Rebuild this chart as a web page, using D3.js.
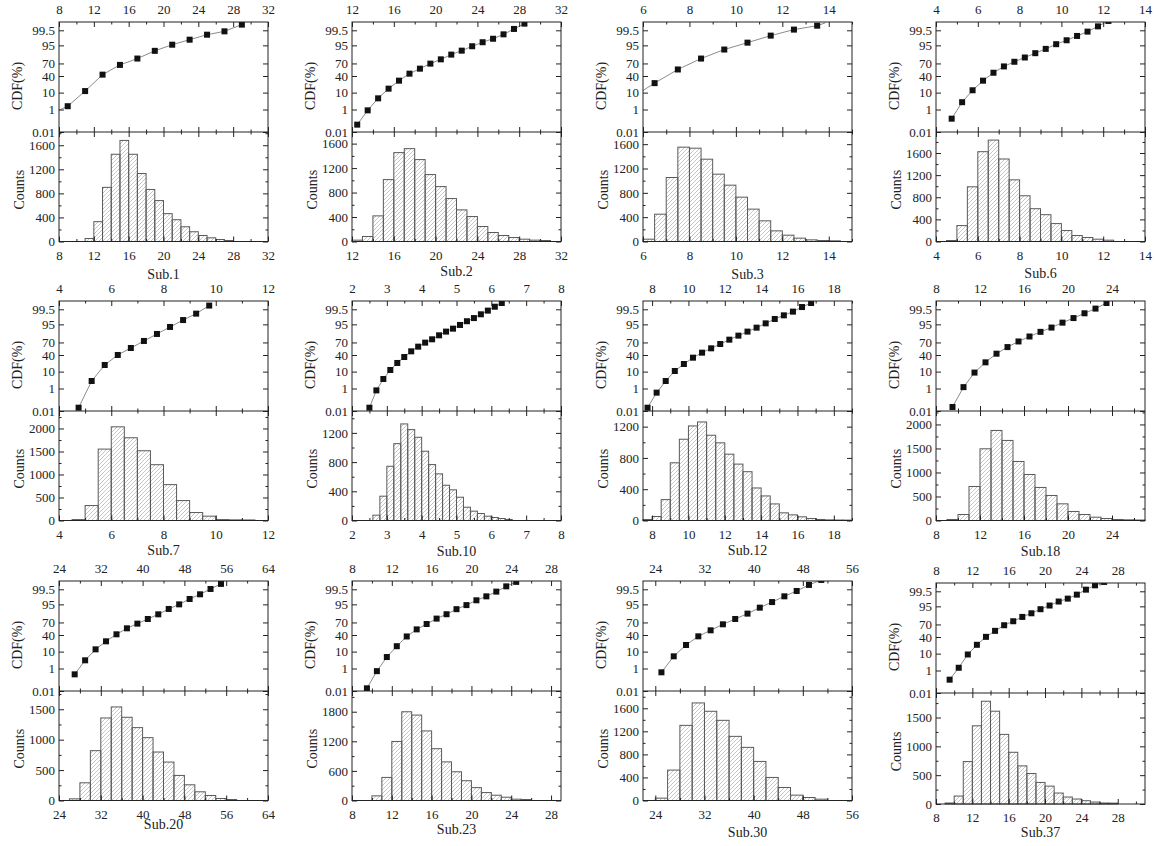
<!DOCTYPE html>
<html>
<head>
<meta charset="utf-8">
<script src="https://cdn.jsdelivr.net/npm/d3@7"></script>
<style>
body { margin: 0; background: #fff; }
svg { display: block; }
</style>
</head>
<body>
<svg width="1158" height="846"></svg>
<script>
// ---- data ----
var subjects = ["Sub.1", "Sub.2", "Sub.3", "Sub.6", "Sub.7", "Sub.10", "Sub.12", "Sub.18", "Sub.20", "Sub.23", "Sub.30", "Sub.37"];

var xDomains = [[8, 32], [12, 32], [6, 15], [4, 14], [4, 12], [2, 8], [7.5, 19], [8, 27], [24, 64], [8, 29], [22, 56], [8, 31]];
var xMajorStep = [4, 4, 2, 2, 2, 1, 2, 4, 8, 4, 8, 4];
var xMinorStep = [2, 2, 1, 1, 1, 0.5, 1, 2, 4, 2, 4, 2];

var probTicks = [0.01, 1, 10, 40, 70, 95, 99.5];
var probLabels = ["0.01", "1", "10", "40", "70", "95", "99.5"];

var cdfX = [
  [9, 11, 13, 15, 17, 19, 21, 23, 25, 27, 29],
  [12.5, 13.5, 14.5, 15.5, 16.5, 17.5, 18.5, 19.5, 20.5, 21.5, 22.5, 23.5, 24.5, 25.5, 26.5, 27.5, 28.5],
  [6.5, 7.5, 8.5, 9.5, 10.5, 11.5, 12.5, 13.5],
  [4.75, 5.25, 5.75, 6.25, 6.75, 7.25, 7.75, 8.25, 8.75, 9.25, 9.75, 10.25, 10.75, 11.25, 11.75, 12.25],
  [4.75, 5.25, 5.75, 6.25, 6.75, 7.25, 7.75, 8.25, 8.75, 9.25, 9.75],
  [2.5, 2.7, 2.9, 3.1, 3.3, 3.5, 3.7, 3.9, 4.1, 4.3, 4.5, 4.7, 4.9, 5.1, 5.3, 5.5, 5.7, 5.9, 6.1, 6.3],
  [7.75, 8.25, 8.75, 9.25, 9.75, 10.25, 10.75, 11.25, 11.75, 12.25, 12.75, 13.25, 13.75, 14.25, 14.75, 15.25, 15.75, 16.25, 16.75],
  [9.5, 10.5, 11.5, 12.5, 13.5, 14.5, 15.5, 16.5, 17.5, 18.5, 19.5, 20.5, 21.5, 22.5, 23.5],
  [27, 29, 31, 33, 35, 37, 39, 41, 43, 45, 47, 49, 51, 53, 55],
  [9.5, 10.5, 11.5, 12.5, 13.5, 14.5, 15.5, 16.5, 17.5, 18.5, 19.5, 20.5, 21.5, 22.5, 23.5, 24.5],
  [25, 27, 29, 31, 33, 35, 37, 39, 41, 43, 45, 47, 49, 51],
  [9.5, 10.5, 11.5, 12.5, 13.5, 14.5, 15.5, 16.5, 17.5, 18.5, 19.5, 20.5, 21.5, 22.5, 23.5, 24.5, 25.5, 26.5]
];

var cdfP = [
  [1.69, 11.8, 43.3, 66.8, 79.6, 90.4, 95.4, 97.7, 98.94, 99.40, 99.83],
  [0.055, 0.87, 5.1, 15.0, 29.4, 45.7, 58.0, 69.6, 78.2, 85.8, 90.6, 94.4, 96.7, 98.0, 99.0, 99.61, 99.86],
  [24.4, 56.0, 79.6, 91.7, 96.5, 98.77, 99.56, 99.79],
  [0.19, 3.05, 12.8, 29.4, 48.0, 63.3, 73.5, 81.4, 87.7, 92.3, 95.7, 97.5, 98.70, 99.37, 99.76, 99.92],
  [0.022, 3.13, 19.2, 40.1, 57.2, 73.1, 85.3, 93.1, 97.2, 98.95, 99.75],
  [0.022, 0.73, 4.1, 11.9, 22.8, 35.3, 49.0, 60.4, 69.6, 76.4, 83.3, 88.4, 91.6, 94.6, 96.7, 97.9, 98.83, 99.37, 99.69, 99.85],
  [0.022, 0.49, 3.13, 10.7, 20.9, 33.8, 45.7, 56.4, 66.6, 75.7, 82.8, 88.4, 92.5, 95.6, 97.6, 98.62, 99.25, 99.67, 99.85],
  [0.026, 1.25, 9.0, 24.0, 43.2, 59.4, 72.1, 81.4, 88.1, 92.6, 96.0, 97.9, 99.01, 99.56, 99.85],
  [0.36, 3.44, 12.7, 26.0, 41.7, 56.4, 67.4, 77.0, 84.8, 91.3, 95.0, 97.6, 98.83, 99.53, 99.82],
  [0.019, 0.64, 5.3, 17.2, 36.6, 53.8, 66.6, 77.7, 84.9, 91.1, 94.5, 97.1, 98.38, 99.25, 99.71, 99.88],
  [0.52, 5.8, 19.2, 36.9, 51.5, 65.9, 77.0, 85.8, 92.5, 96.3, 98.39, 99.33, 99.78, 99.92],
  [0.19, 1.55, 9.1, 23.1, 40.4, 55.1, 68.3, 76.5, 83.9, 88.8, 92.9, 95.5, 97.4, 98.31, 99.11, 99.63, 99.84, 99.92]
];

// where the grey connecting line runs past the first / last marker
var lineStart = [[8, 0.9], null, [6, 12.5], null, null, null, null, null, null, null, null, null];
var lineEnd = [null, null, [13.85, 99.88], null, null, null, null, null, null, null, null, null];

var binStart = [11, 12, 6, 4.5, 4.5, 2.6, 7.5, 9, 26, 10, 24, 9];
var binWidth = [1, 1, 0.5, 0.5, 0.5, 0.2, 0.5, 1, 2, 1, 2, 1];
var counts = [
  [50, 330, 900, 1450, 1680, 1450, 1130, 865, 680, 463, 362, 245, 162, 100, 61, 33, 17],
  [22, 82, 419, 1012, 1453, 1518, 1339, 1094, 898, 702, 517, 408, 245, 147, 98, 65, 38, 22, 16],
  [38, 449, 1052, 1551, 1534, 1353, 1107, 926, 729, 532, 340, 175, 104, 55, 27, 16, 11],
  [18, 288, 989, 1624, 1834, 1492, 1115, 827, 593, 485, 324, 198, 108, 72, 42, 24],
  [20, 325, 1552, 2036, 1798, 1516, 1213, 780, 433, 173, 94, 20, 14, 12],
  [73, 333, 743, 1053, 1323, 1245, 1140, 949, 766, 639, 483, 420, 319, 182, 128, 96, 59, 41, 27, 14],
  [13, 51, 267, 738, 1039, 1209, 1260, 1090, 993, 848, 721, 624, 416, 314, 212, 98, 72, 47, 25, 13, 8, 6, 5],
  [21, 125, 708, 1493, 1875, 1667, 1229, 958, 688, 521, 347, 188, 125, 69, 42, 21, 14, 10],
  [27, 291, 819, 1357, 1538, 1368, 1198, 1033, 797, 632, 412, 258, 143, 82, 33, 16],
  [94, 468, 1197, 1799, 1732, 1411, 1050, 783, 582, 401, 261, 161, 107, 67, 27, 20],
  [41, 528, 1304, 1693, 1548, 1391, 1113, 922, 678, 400, 226, 93, 52, 23],
  [17, 138, 736, 1356, 1782, 1609, 1207, 897, 661, 529, 374, 310, 190, 121, 86, 57, 34, 17, 15]
];
var countMax = [1820, 1790, 1800, 1980, 2380, 1500, 1400, 2280, 1800, 2220, 1900, 1925];
var countStep = [400, 400, 400, 400, 500, 400, 400, 500, 500, 600, 400, 500];

// ---- layout ----
var colLeft = [59, 352, 643, 936], plotW = 209;
var rowTop = [22, 301, 581];
var titleGap = [33, 30, 33, 32, 30, 31, 30, 31, 24, 29, 32, 28];
var font = "'Liberation Serif', 'Times New Roman', serif";
var ink = "#222";

// inverse normal CDF (Acklam) for the probability axis
function probit(p) {
  var a = [-39.69683028665376, 220.9460984245205, -275.9285104469687, 138.3577518672690, -30.66479806614716, 2.506628277459239],
      b = [-54.47609879822406, 161.5858368580409, -155.6989798598866, 66.80131188771972, -13.28068155288572],
      c = [-0.007784894002430293, -0.3223964580411365, -2.400758277161838, -2.549732539343734, 4.374664141464968, 2.938163982698783],
      d = [0.007784695709041462, 0.3224671290700398, 2.445134137142996, 3.754408661907416];
  var q, r;
  if (p < 0.02425) {
    q = Math.sqrt(-2 * Math.log(p));
    return (((((c[0]*q+c[1])*q+c[2])*q+c[3])*q+c[4])*q+c[5]) / ((((d[0]*q+d[1])*q+d[2])*q+d[3])*q+1);
  }
  if (p > 1 - 0.02425) {
    q = Math.sqrt(-2 * Math.log(1 - p));
    return -(((((c[0]*q+c[1])*q+c[2])*q+c[3])*q+c[4])*q+c[5]) / ((((d[0]*q+d[1])*q+d[2])*q+d[3])*q+1);
  }
  q = p - 0.5; r = q * q;
  return (((((a[0]*r+a[1])*r+a[2])*r+a[3])*r+a[4])*r+a[5])*q / (((((b[0]*r+b[1])*r+b[2])*r+b[3])*r+b[4])*r+1);
}

function ticksFrom(dom, step) {
  var s = Math.ceil(dom[0] / step - 1e-9) * step;
  return d3.range(s, dom[1] + step * 1e-6, step);
}
function notOn(vals, step) {
  return vals.filter(function(v) { return Math.abs(v / step - Math.round(v / step)) > 1e-6; });
}
var numFmt = d3.format("~g");

function axis(gen, scale, vals, size, fmt, pad) {
  return function(sel) {
    sel.call(gen(scale).tickValues(vals).tickSize(size).tickPadding(pad || 3).tickFormat(fmt || ""));
    sel.select(".domain").remove();
    sel.attr("font-family", font).attr("font-size", 13).attr("color", ink);
    sel.selectAll("line").attr("stroke-width", 1);
  };
}

var svg = d3.select("svg");
var defs = svg.append("defs");
defs.append("pattern")
    .attr("id", "hatch")
    .attr("patternUnits", "userSpaceOnUse")
    .attr("width", 4)
    .attr("height", 4)
  .append("path")
    .attr("d", "M-1,1 l2,-2 M0,4 l4,-4 M3,5 l2,-2")
    .attr("stroke", "#a0a0a0")
    .attr("stroke-width", 0.6);

subjects.forEach(function(name, i) {
  var col = i % 4, row = Math.floor(i / 4);
  var x0 = colLeft[col], x1 = x0 + plotW;
  var top = rowTop[row] + (i == 11 ? 2 : 0);
  var div = top + 110;
  var bot = div + (i == 11 ? 111 : 109.5);
  var g = svg.append("g");

  var x = d3.scaleLinear().domain(xDomains[i]).range([x0, x1]);
  var yz = d3.scaleLinear().domain([probit(0.0001), probit(0.999)]).range([div, top]);
  var yc = d3.scaleLinear().domain([0, countMax[i]]).range([bot, div]);

  var major = ticksFrom(xDomains[i], xMajorStep[i]);
  var minor = notOn(ticksFrom(xDomains[i], xMinorStep[i]), xMajorStep[i]);
  var cMajor = ticksFrom([0, countMax[i]], countStep[i]);
  var cMinor = notOn(ticksFrom([0, countMax[i]], countStep[i] / 2), countStep[i]);
  var pz = probTicks.map(function(p) { return probit(p / 100); });

  // histogram
  var bw = x(binStart[i] + binWidth[i]) - x(binStart[i]);
  g.append("g").selectAll("rect")
    .data(counts[i])
    .enter()
    .append("rect")
      .attr("x", function(d, j) { return x(binStart[i] + j * binWidth[i]); })
      .attr("y", function(d) { return yc(d); })
      .attr("width", bw)
      .attr("height", function(d) { return bot - yc(d); })
      .attr("fill", "url(#hatch)")
      .attr("stroke", "#5a5a5a")
      .attr("stroke-width", 1);

  // CDF line + markers
  defs.append("clipPath").attr("id", "clip" + i)
    .append("rect").attr("x", x0).attr("y", top).attr("width", plotW).attr("height", div - top);
  var pts = cdfX[i].map(function(v, k) { return [v, cdfP[i][k]]; });
  var linePts = (lineStart[i] ? [lineStart[i]] : []).concat(pts, lineEnd[i] ? [lineEnd[i]] : []);
  var cg = g.append("g").attr("clip-path", "url(#clip" + i + ")");
  cg.append("path")
    .datum(linePts)
    .attr("fill", "none")
    .attr("stroke", "#8c8c8c")
    .attr("stroke-width", 1)
    .attr("d", d3.line()
      .x(function(d) { return x(d[0]); })
      .y(function(d) { return yz(probit(d[1] / 100)); }));
  cg.selectAll("rect")
    .data(pts)
    .enter()
    .append("rect")
      .attr("x", function(d) { return x(d[0]) - 3; })
      .attr("y", function(d) { return yz(probit(d[1] / 100)) - 3; })
      .attr("width", 6)
      .attr("height", 6)
      .attr("fill", "#111");

  // frames
  g.append("rect")
    .attr("x", x0).attr("y", top).attr("width", plotW).attr("height", bot - top)
    .attr("fill", "none").attr("stroke", ink).attr("stroke-width", 1);
  g.append("line")
    .attr("x1", x0).attr("x2", x1).attr("y1", div).attr("y2", div)
    .attr("stroke", ink).attr("stroke-width", 1);

  // x axes
  g.append("g").attr("transform", "translate(0," + top + ")").call(axis(d3.axisTop, x, major, -5, numFmt, 8));
  g.append("g").attr("transform", "translate(0," + top + ")").call(axis(d3.axisTop, x, minor, -2.5));
  g.append("g").attr("transform", "translate(0," + div + ")").call(axis(d3.axisBottom, x, major, -5));
  g.append("g").attr("transform", "translate(0," + div + ")").call(axis(d3.axisBottom, x, minor, -2.5));
  g.append("g").attr("transform", "translate(0," + div + ")").call(axis(d3.axisTop, x, major, -5));
  g.append("g").attr("transform", "translate(0," + div + ")").call(axis(d3.axisTop, x, minor, -2.5));
  g.append("g").attr("transform", "translate(0," + bot + ")").call(axis(d3.axisBottom, x, major, -5, numFmt, 9));
  g.append("g").attr("transform", "translate(0," + bot + ")").call(axis(d3.axisBottom, x, minor, -2.5));

  // CDF y axes
  g.append("g").attr("transform", "translate(" + x0 + ",0)")
    .call(axis(d3.axisLeft, yz, pz, -5, function(d, k) { return probLabels[k]; }, 4));
  g.append("g").attr("transform", "translate(" + x1 + ",0)").call(axis(d3.axisRight, yz, pz, -5));

  // count y axes
  g.append("g").attr("transform", "translate(" + x0 + ",0)").call(axis(d3.axisLeft, yc, cMajor, -5, numFmt, 4));
  g.append("g").attr("transform", "translate(" + x0 + ",0)").call(axis(d3.axisLeft, yc, cMinor, -2.5));
  g.append("g").attr("transform", "translate(" + x1 + ",0)").call(axis(d3.axisRight, yc, cMajor, -5));
  g.append("g").attr("transform", "translate(" + x1 + ",0)").call(axis(d3.axisRight, yc, cMinor, -2.5));

  // titles
  g.append("text")
    .attr("transform", "translate(" + (x0 - 42) + "," + ((top + div) / 2 + 9) + ")rotate(-90)")
    .attr("text-anchor", "middle").attr("dy", "0.35em")
    .attr("font-family", font).attr("font-size", 14).attr("fill", ink)
    .text("CDF(%)");
  g.append("text")
    .attr("transform", "translate(" + (x0 - 40) + "," + ((div + bot) / 2 + 3) + ")rotate(-90)")
    .attr("text-anchor", "middle").attr("dy", "0.35em")
    .attr("font-family", font).attr("font-size", 14).attr("fill", ink)
    .text("Counts");
  g.append("text")
    .attr("x", (x0 + x1) / 2).attr("y", bot + titleGap[i]).attr("dy", "0.35em")
    .attr("text-anchor", "middle")
    .attr("font-family", font).attr("font-size", 14).attr("fill", ink)
    .text(name);
});
</script>
</body>
</html>
